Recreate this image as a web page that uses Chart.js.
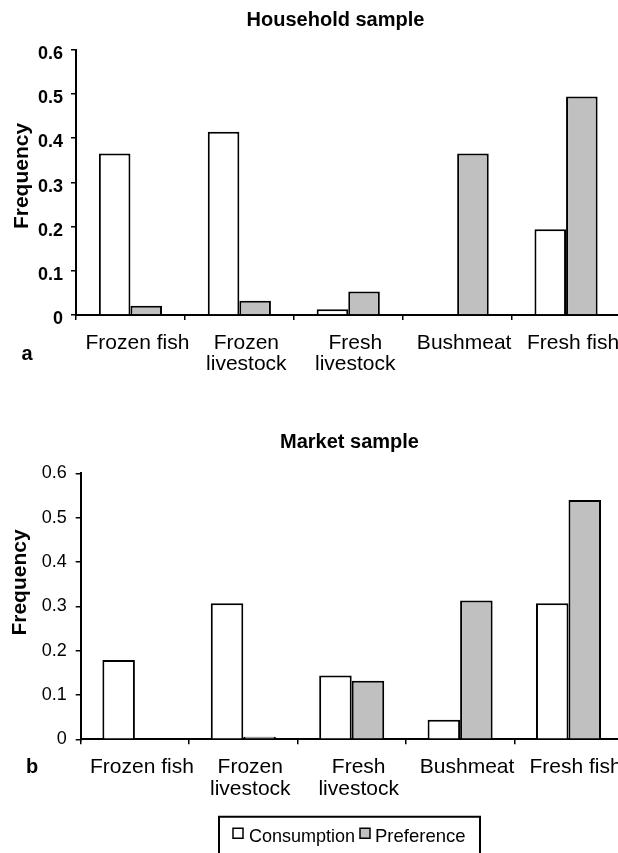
<!DOCTYPE html>
<html>
<head>
<meta charset="utf-8">
<script src="https://cdn.jsdelivr.net/npm/chart.js@4.4.1/dist/chart.umd.min.js"></script>
<style>
  html, body { margin: 0; padding: 0; overflow: hidden; background: #fff; width: 618px; height: 853px; }
  canvas { position: absolute; left: 0; }
  #c1 { top: 0; }
  #c2 { top: 400px; }
</style>
</head>
<body>
<canvas id="c1" width="640" height="400"></canvas>
<canvas id="c2" width="640" height="453"></canvas>
<script>
// ---- data ----
const categories = [['Frozen fish'], ['Frozen', 'livestock'], ['Fresh', 'livestock'], ['Bushmeat'], ['Fresh fish']];
const seriesNames = ['Consumption', 'Preference'];
const householdConsumption = [0.365, 0.414, 0.013, 0, 0.194];
const householdPreference  = [0.021, 0.032, 0.053, 0.365, 0.494];
const marketConsumption    = [0.179, 0.307, 0.144, 0.044, 0.307];
const marketPreference     = [0, 0.006, 0.132, 0.313, 0.540];
const yTickLabels = ['0', '0.1', '0.2', '0.3', '0.4', '0.5', '0.6'];
const panelTitles = ['Household sample', 'Market sample'];
const panelLetters = ['a', 'b'];

const FONT = "'Liberation Sans', Arial, Helvetica, sans-serif";
const seriesFill = ['#ffffff', '#c0c0c0'];

Chart.defaults.font.family = FONT;
Chart.defaults.color = '#000';

function annotPlugin(spec) {
  return {
    id: 'annot',
    afterDraw(chart) {
      const ctx = chart.ctx;
      (spec.boxes || []).forEach(b => {
        ctx.save();
        if (b.fill) { ctx.fillStyle = b.fill; ctx.fillRect(b.x, b.y, b.w, b.h); }
        ctx.lineWidth = b.lw;
        ctx.strokeStyle = '#000';
        ctx.beginPath();
        ctx.rect(b.x, b.y, b.w, b.h);
        ctx.stroke();
        ctx.restore();
      });
      (spec.texts || []).forEach(t => {
        ctx.save();
        ctx.font = t.font;
        ctx.fillStyle = '#000';
        ctx.textAlign = t.align || 'left';
        ctx.textBaseline = 'alphabetic';
        ctx.translate(t.x, t.y);
        if (t.rot) ctx.rotate(t.rot);
        ctx.fillText(t.text, 0, 0);
        ctx.restore();
      });
    }
  };
}

function makeChart(id, cons, pref, cfg) {
  return new Chart(document.getElementById(id), {
    type: 'bar',
    data: {
      labels: categories,
      datasets: [
        { label: seriesNames[0], data: cons, backgroundColor: seriesFill[0], borderColor: '#000', borderWidth: 2 },
        { label: seriesNames[1], data: pref, backgroundColor: seriesFill[1], borderColor: '#000', borderWidth: 2 }
      ]
    },
    options: {
      responsive: false,
      animation: false,
      devicePixelRatio: 1,
      layout: { padding: { top: cfg.padTop, right: cfg.padRight, left: 0, bottom: 0 } },
      datasets: { bar: { categoryPercentage: cfg.catPct, barPercentage: 1 } },
      plugins: {
        legend: { display: false },
        tooltip: { enabled: false }
      },
      scales: {
        x: {
          grid: { drawOnChartArea: false, drawTicks: true, tickLength: 5, color: '#000', lineWidth: 1.5, offset: true },
          border: { color: '#000', width: 2 },
          ticks: { color: '#000', font: { size: 21, lineHeight: 1.03 }, padding: 12, maxRotation: 0, autoSkip: false, labelOffset: 7 },
          afterFit: s => { s.height = cfg.xHeight; }
        },
        y: {
          min: 0, max: 0.6,
          grid: { drawOnChartArea: false, drawTicks: true, tickLength: 5, color: '#000', lineWidth: 1.5 },
          border: { color: '#000', width: 2 },
          ticks: {
            stepSize: 0.1, color: '#000', padding: cfg.yPad, labelOffset: cfg.yLabelOffset,
            font: { size: 18, weight: cfg.tickWeight },
            callback: v => yTickLabels[Math.round(v * 10)]
          },
          afterFit: s => { s.width = cfg.yWidth; }
        }
      }
    },
    plugins: [annotPlugin(cfg.annot)]
  });
}

makeChart('c1', householdConsumption, householdPreference, {
  padTop: 49.5, padRight: 19.5, catPct: 0.58, xHeight: 85, yWidth: 76, yPad: 8, yLabelOffset: 4.5, tickWeight: 'bold',
  annot: {
    texts: [
      { text: panelTitles[0], font: "bold 20px " + FONT, x: 335.5, y: 26, align: 'center' },
      { text: 'Frequency', font: "bold 21px " + FONT, x: 28, y: 176, align: 'center', rot: -Math.PI / 2 },
      { text: panelLetters[0], font: "bold 20px " + FONT, x: 21.5, y: 360, align: 'left' }
    ]
  }
});

makeChart('c2', marketConsumption, marketPreference, {
  padTop: 73.3, padRight: 17.3, catPct: 0.6, xHeight: 113.7, yWidth: 80.7, yPad: 9, yLabelOffset: 0, tickWeight: 'normal',
  annot: {
    texts: [
      { text: panelTitles[1], font: "bold 20px " + FONT, x: 349.5, y: 48, align: 'center' },
      { text: 'Frequency', font: "bold 21px " + FONT, x: 26, y: 182.5, align: 'center', rot: -Math.PI / 2 },
      { text: panelLetters[1], font: "bold 20px " + FONT, x: 26, y: 373.3, align: 'left' },
      { text: seriesNames[0], font: "18px " + FONT, x: 249, y: 441.7, align: 'left' },
      { text: seriesNames[1], font: "18.5px " + FONT, x: 375, y: 441.7, align: 'left' }
    ],
    boxes: [
      { x: 219, y: 416.7, w: 261, h: 60, lw: 2 },
      { x: 233, y: 428.3, w: 10, h: 10, lw: 1.5, fill: seriesFill[0] },
      { x: 360, y: 428.3, w: 10, h: 10, lw: 1.5, fill: seriesFill[1] }
    ]
  }
});
</script>
</body>
</html>
